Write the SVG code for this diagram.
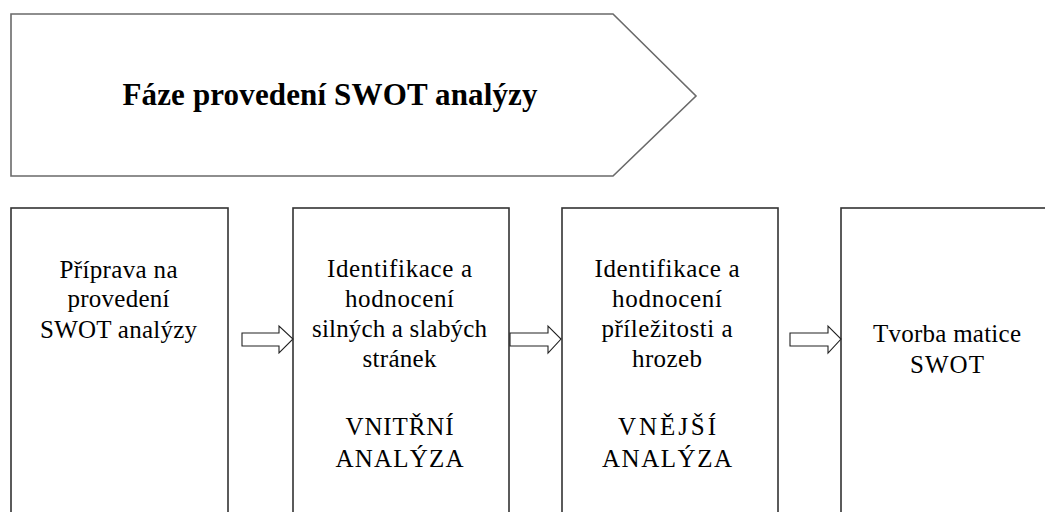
<svg xmlns="http://www.w3.org/2000/svg" width="1045" height="512" viewBox="0 0 1045 512">
<style>
.box{fill:#fff;stroke:#333;stroke-width:1.6}
.banner{fill:#fff;stroke:#6a6a6a;stroke-width:1.6}
.arr{fill:#fff;stroke:#222;stroke-width:1.1}
.t{font-family:"Liberation Serif","Times New Roman",serif;font-size:25px;fill:#000;text-anchor:middle}
.title{font-family:"Liberation Serif","Times New Roman",serif;font-size:31px;font-weight:bold;fill:#000;text-anchor:middle}
</style>
<rect width="1045" height="512" fill="#fff"/>
<g id="banner">
<polygon class="banner" points="11,14 613,14 696,96 613,176 11,176"/>
<text class="title" x="330" y="105" textLength="415">Fáze provedení SWOT analýzy</text>
</g>
<g id="box1">
<rect class="box" x="11" y="208" width="217" height="330"/>
<text class="t" x="118.5" y="278" textLength="118">Příprava na</text>
<text class="t" x="118.5" y="307" textLength="102">provedení</text>
<text class="t" x="118.5" y="338" textLength="157">SWOT analýzy</text>
</g>
<g id="box2">
<rect class="box" x="293" y="208" width="216" height="330"/>
<text class="t" x="399.5" y="277" textLength="145">Identifikace a</text>
<text class="t" x="399.5" y="307" textLength="109">hodnocení</text>
<text class="t" x="399.5" y="337" textLength="175">silných a slabých</text>
<text class="t" x="399.5" y="367" textLength="74">stránek</text>
<text class="t" x="399.5" y="435" textLength="108">VNITŘNÍ</text>
<text class="t" x="399.5" y="467" textLength="128">ANALÝZA</text>
</g>
<g id="box3">
<rect class="box" x="562" y="208" width="216" height="330"/>
<text class="t" x="667" y="277" textLength="145">Identifikace a</text>
<text class="t" x="667" y="307" textLength="110">hodnocení</text>
<text class="t" x="667" y="337" textLength="131">příležitosti a</text>
<text class="t" x="667" y="367" textLength="70">hrozeb</text>
<text class="t" x="667" y="435" textLength="98">VNĚJŠÍ</text>
<text class="t" x="667" y="467" textLength="130">ANALÝZA</text>
</g>
<g id="box4">
<rect class="box" x="841" y="208" width="216" height="330"/>
<text class="t" x="947" y="342" textLength="148">Tvorba matice</text>
<text class="t" x="947" y="373" textLength="74">SWOT</text>
</g>
<g id="connectors">
<polygon class="arr" points="242,333 279,333 279,326 293,339 279,353 279,346 242,346"/>
<polygon class="arr" points="510,333 548,333 548,326 561,339 548,353 548,346 510,346"/>
<polygon class="arr" points="790,333 828,333 828,326 841,339 828,353 828,346 790,346"/>
</g>
</svg>
